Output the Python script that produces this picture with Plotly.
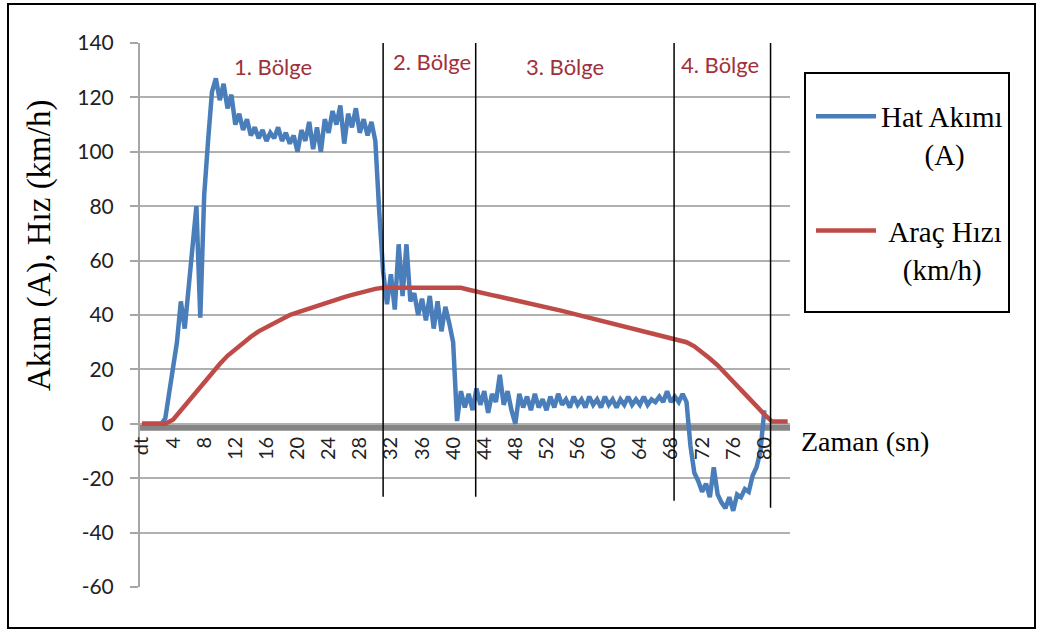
import plotly.graph_objects as go

# ---- data ----
# Hat Akımı (A), sampled every 0.5 s from t = 0 to t = 80 s
hat_akimi = [
    0, 0, 0, 0, 0, 0, 2, 11, 21, 30,
    45, 35, 50, 66, 80, 39, 84, 104, 122, 127,
    119, 125, 116, 121, 110, 114, 108, 112, 106, 109,
    105, 108, 104, 107, 105, 109, 104, 107, 103, 106,
    100, 108, 104, 111, 101, 109, 100, 112, 107, 115,
    110, 117, 103, 114, 109, 116, 107, 112, 106, 111,
    104, 78, 56, 44, 55, 42, 66, 47, 66, 45,
    48, 40, 46, 38, 47, 35, 45, 34, 43, 37,
    30, 1, 12, 6, 11, 5, 13, 7, 12, 4,
    11, 8, 18, 7, 12, 5, 0, 11, 6, 10,
    5, 11, 6, 9, 5, 10, 6, 11, 7, 9,
    6, 10, 7, 9, 6, 10, 7, 9, 6, 10,
    7, 9, 6, 9, 7, 10, 7, 9, 7, 10,
    7, 9, 8, 10, 8, 12, 8, 10, 8, 11,
    8, -8, -18, -21, -25, -22, -27, -16, -26, -29,
    -31, -27, -32, -26, -27, -24, -25, -19, -16, -10,
    5,
]
hat_zaman = [i * 0.5 for i in range(len(hat_akimi))]

# Araç Hızı (km/h), sampled every 1 s from t = 0 to t = 83 s
arac_hizi = [
    0, 0, 0, 0, 1.5, 5, 8.5, 12, 15.5, 19,
    22, 25, 27.5, 30, 32, 34, 35.5, 37, 38.5, 40,
    41, 42, 43, 44, 45, 45.8, 46.6, 47.4, 48.2, 49,
    49.6, 50, 50, 50, 50, 50, 50, 50, 50, 50,
    50, 50, 49.3, 48.5, 47.9, 47.3, 46.7, 46.1, 45.5, 44.8,
    44.2, 43.5, 42.9, 42.2, 41.5, 40.8, 40.1, 39.4, 38.7, 38,
    37.3, 36.6, 35.9, 35.2, 34.5, 33.8, 33.1, 32.5, 31.8, 31,
    30, 28.5, 26.5, 24, 21.5, 18.6, 15.5, 12.4, 9.5, 6.5,
    3.5, 0.8, 0.8, 0.8,
]
hiz_zaman = list(range(len(arac_hizi)))

x_tick_deger = list(range(0, 81, 4))
x_tick_etiket = ["dt"] + [str(v) for v in range(4, 81, 4)]
y_tick_deger = [-60, -40, -20, 0, 20, 40, 60, 80, 100, 120, 140]
y_tick_etiket = ["-60", "-40", "-20", "0", "20", "40", "60", "80", "100", "120", "140"]
bolge_adlari = ["1. Bölge", "2. Bölge", "3. Bölge", "4. Bölge"]
bolge_sinirlari = [31.0, 42.9, 68.4, 80.8]

# ---- figure ----
W, H = 1042, 632
L, R, T, B = 140, 252, 43, 45
PW, PH = W - L - R, H - T - B


def px_x(p):
    return (p - L) / PW


def px_y(p):
    return (H - B - p) / PH


fig = go.Figure()
fig.add_trace(go.Scatter(
    x=hat_zaman, y=hat_akimi, mode="lines",
    name="Hat Akımı<br>" + "\u00a0" * 6 + "(A)",
    line=dict(color="#4a7ebb", width=4.5), legendgroup="a",
))
fig.add_trace(go.Scatter(
    x=hiz_zaman, y=arac_hizi, mode="lines",
    name="\u00a0Araç Hızı<br>" + "\u00a0" * 3 + "(km/h)",
    line=dict(color="#be4b48", width=4.5), legendgroup="b",
))

shapes = []
# thick grey band under the zero line
shapes.append(dict(type="rect", xref="paper", yref="y", x0=0, x1=1, y0=-2.6, y1=0,
                   fillcolor="#858585", line=dict(width=0), layer="between"))
# region borders
ends = [-26.8, -26.8, -28.3, -30.9]
for xs, ye in zip(bolge_sinirlari, ends):
    shapes.append(dict(type="line", xref="x", yref="y", x0=xs, x1=xs, y0=140, y1=ye,
                       line=dict(color="black", width=1.5), layer="above"))
# legend frame
shapes.append(dict(type="rect", xref="paper", yref="paper",
                   x0=px_x(805), x1=px_x(1009), y0=px_y(312), y1=px_y(73),
                   line=dict(color="black", width=2), fillcolor="white", layer="below"))
# outer frame
shapes.append(dict(type="rect", xref="paper", yref="paper",
                   x0=px_x(8), x1=px_x(1035), y0=px_y(628), y1=px_y(4),
                   line=dict(color="black", width=2), layer="below"))

annotations = []
bolge_x = [16.8, 37.3, 54.4, 74.3]
bolge_y = [131.3, 133.3, 131.3, 132.0]
for ad, bx, by in zip(bolge_adlari, bolge_x, bolge_y):
    annotations.append(dict(text=ad, x=bx, y=by, xref="x", yref="y", showarrow=False,
                            font=dict(family="Lato", size=22, color="#a0303a")))
annotations.append(dict(text="Akım (A), Hız (km/h)", textangle=-90, showarrow=False,
                        xref="paper", yref="paper", x=px_x(39), y=px_y(246),
                        xanchor="center", yanchor="middle",
                        font=dict(family="Liberation Serif", size=33, color="black")))
annotations.append(dict(text="Zaman (sn)", showarrow=False, xref="paper", yref="paper",
                        x=px_x(799), y=px_y(441), xanchor="left", yanchor="middle",
                        font=dict(family="Liberation Serif", size=28, color="black")))

fig.update_layout(
    width=W, height=H,
    margin=dict(l=L, r=R, t=T, b=B),
    paper_bgcolor="white", plot_bgcolor="white",
    shapes=shapes, annotations=annotations,
    legend=dict(x=px_x(811), y=px_y(70), xanchor="left", yanchor="top",
                borderwidth=0, bgcolor="rgba(0,0,0,0)",
                font=dict(family="Liberation Serif", size=29, color="black"),
                valign="top", tracegroupgap=36, itemwidth=60,
                title=dict(text="\u00a0", font=dict(size=16))),
    xaxis=dict(range=[-0.25, 83.3], anchor="free", position=0.3,
               tickvals=x_tick_deger, ticktext=x_tick_etiket, tickangle=-90,
               showgrid=False, zeroline=False, showline=False, ticks="",
               ticklabelstandoff=8,
               tickfont=dict(family="Lato", size=20, color="#222222")),
    yaxis=dict(range=[-60, 140], tickvals=y_tick_deger, ticktext=y_tick_etiket,
               showgrid=True, gridcolor="#b0b0b0",
               gridwidth=2, zeroline=False, showline=True, linecolor="#a6a6a6",
               linewidth=2, ticks="outside", ticklen=8, tickcolor="#a6a6a6",
               tickwidth=2, ticklabelstandoff=12,
               tickfont=dict(family="Lato", size=21, color="#222222")),
)

fig.write_html("out.html", config={"displayModeBar": False},
               post_script="document.body.style.margin='0';")
